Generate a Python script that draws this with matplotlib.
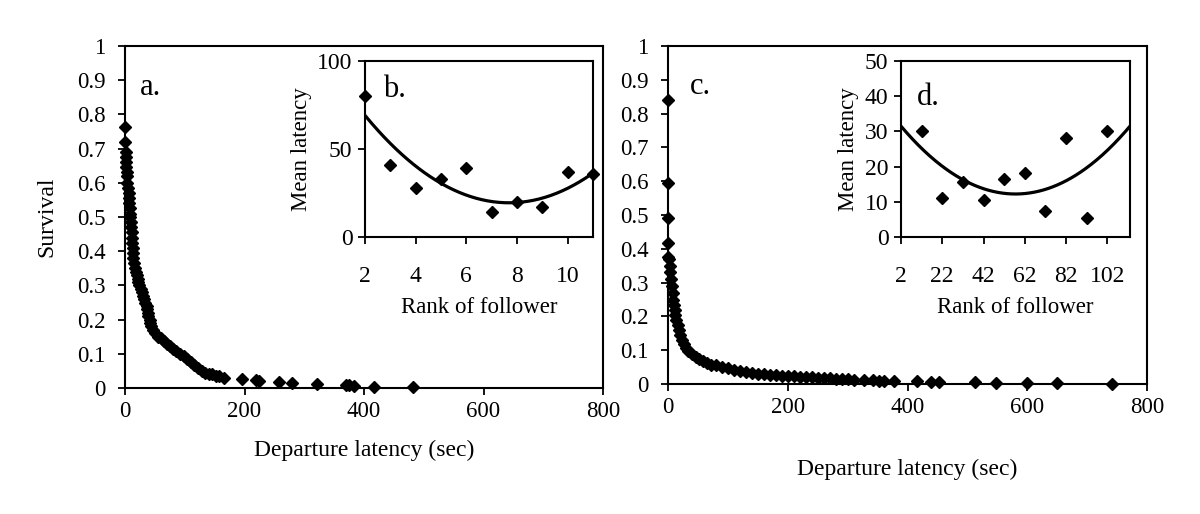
import numpy as np
import matplotlib
matplotlib.use("Agg")
import matplotlib.pyplot as plt

plt.rcParams['font.family'] = ['Liberation Serif', 'DejaVu Serif']

# panel a: survival vs departure latency (sec)
lat_a = [0, 0, 1, 1, 2, 2, 3, 4, 4, 5, 6, 6, 7, 8, 8, 9, 10, 10, 11, 12, 12, 13, 14, 14, 15, 16,
         18, 20, 21, 22, 24, 26, 28, 30, 32, 34, 36, 37, 38, 39, 41, 42, 44, 46, 50, 55, 60, 65,
         70, 75, 80, 86, 92, 98, 104, 110, 116, 122, 128, 133, 140, 146, 152, 158, 165,
         195, 220, 225, 258, 279, 321, 370, 375, 384, 417, 482]
surv_a = [0.764, 0.72, 0.69, 0.676, 0.66, 0.645, 0.633, 0.62, 0.6, 0.585, 0.57, 0.555, 0.54, 0.525,
          0.51, 0.5, 0.485, 0.47, 0.455, 0.44, 0.425, 0.41, 0.395, 0.38, 0.365, 0.35,
          0.34, 0.33, 0.32, 0.31, 0.3, 0.29, 0.28, 0.27, 0.26, 0.25, 0.24, 0.23, 0.22, 0.21, 0.2,
          0.19, 0.18, 0.17, 0.16, 0.15, 0.145, 0.138, 0.13, 0.123, 0.115, 0.108, 0.1, 0.093,
          0.085, 0.075, 0.066, 0.058, 0.051, 0.045, 0.042, 0.04, 0.036, 0.034, 0.03,
          0.025, 0.023, 0.02, 0.018, 0.016, 0.012, 0.01, 0.008, 0.006, 0.004, 0.002]

# panel c: survival vs departure latency (sec)
lat_c = [0, 0, 0, 0, 0, 2, 3, 4, 5, 7, 8, 9, 10, 11, 12, 14, 16, 18, 20, 23, 26, 30, 34, 40, 46,
         52, 58, 65, 72, 80, 90, 100, 110, 120, 130, 140, 150, 160, 170, 180, 190, 200, 210,
         220, 230, 240, 250, 260, 270, 280, 290, 300, 310, 327, 342, 352, 360, 377,
         416, 440, 453, 512, 548, 600, 650, 741]
surv_c = [0.84, 0.595, 0.49, 0.417, 0.376, 0.37, 0.35, 0.33, 0.31, 0.29, 0.27, 0.25, 0.235, 0.22,
          0.205, 0.19, 0.175, 0.16, 0.145, 0.13, 0.118, 0.107, 0.098, 0.088, 0.08,
          0.073, 0.067, 0.062, 0.057, 0.055, 0.05, 0.046, 0.042, 0.039, 0.036, 0.033, 0.031,
          0.029, 0.027, 0.026, 0.025, 0.024, 0.023, 0.022, 0.021, 0.02, 0.019, 0.018, 0.017,
          0.016, 0.015, 0.014, 0.013, 0.012, 0.011, 0.01, 0.009, 0.009,
          0.008, 0.007, 0.006, 0.005, 0.004, 0.003, 0.002, 0.001]

# panel b: mean latency by rank of follower
rank_b = [2, 3, 4, 5, 6, 7, 8, 9, 10, 11]
mean_b = [80, 41, 28, 33, 39, 14, 20, 17, 37, 36]
# trend line read at a few points
trend_bx = [2, 5, 7.5, 11]
trend_by = [69, 30.7, 19.3, 36.4]

# panel d
rank_d = [12, 22, 32, 42, 52, 62, 72, 82, 92, 102]
mean_d = [30, 11, 15.5, 10.5, 16.5, 18.2, 7.5, 28, 5.5, 30]
trend_dx = [2, 32, 57.5, 83, 113]
trend_dy = [31.5, 16.3, 12.2, 16.3, 31.5]

fig = plt.figure(figsize=(12, 5.14), dpi=100)


def main_panel(rect, x, y, letter, lx, xlabelpad, ylabel=None):
    ax = fig.add_axes(rect)
    ax.plot(x, y, linestyle='none', marker='D', ms=6.3, color='black', clip_on=False, zorder=3)
    ax.set_xlim(0, 800)
    ax.set_ylim(0, 1)
    ax.set_xticks([0, 200, 400, 600, 800])
    ax.set_yticks(np.arange(0, 1.01, 0.1))
    ax.set_yticklabels(['0', '0.1', '0.2', '0.3', '0.4', '0.5', '0.6', '0.7', '0.8', '0.9', '1'])
    ax.tick_params(direction='out', length=5, width=1.3, labelsize=16.5, top=False, right=False)
    ax.tick_params(axis='x', pad=4)
    ax.tick_params(axis='y', pad=9)
    for s in ax.spines.values():
        s.set_linewidth(1.5)
    ax.set_xlabel('Departure latency (sec)', fontsize=17, labelpad=xlabelpad)
    if ylabel:
        ax.set_ylabel(ylabel, fontsize=17, labelpad=14)
    ax.text(lx, 0.88, letter, transform=ax.transAxes, fontsize=22, va='center')
    return ax


def inset(rect, x, y, tx, ty, xlim, xticks, ylim, yticks, letter, lx, ly):
    ax = fig.add_axes(rect)
    ax.set_facecolor('white')
    ax.plot(x, y, linestyle='none', marker='D', ms=6.5, color='black', clip_on=False, zorder=3)
    coef = np.polyfit(tx, ty, 2)
    xs = np.linspace(xlim[0], xlim[1], 200)
    ax.plot(xs, np.polyval(coef, xs), color='black', lw=2.3)
    ax.set_xlim(*xlim)
    ax.set_ylim(*ylim)
    ax.set_xticks(xticks)
    ax.set_yticks(yticks)
    ax.tick_params(direction='out', length=5, width=1.3, labelsize=17)
    ax.tick_params(axis='x', pad=16)
    ax.tick_params(axis='y', pad=4)
    for s in ax.spines.values():
        s.set_linewidth(1.5)
    ax.set_xlabel('Rank of follower', fontsize=16.5, labelpad=7)
    ax.set_ylabel('Mean latency', fontsize=16.5, labelpad=4)
    ax.text(lx, ly, letter, transform=ax.transAxes, fontsize=22, va='center')
    return ax


main_panel([0.1042, 0.2451, 0.3983, 0.6654], lat_a, surv_a, 'a.', 0.03, 13, 'Survival')
main_panel([0.5567, 0.2529, 0.3991, 0.6576], lat_c, surv_c, 'c.', 0.045, 30)
inset([0.3042, 0.5389, 0.19, 0.3424], rank_b, mean_b, trend_bx, trend_by,
      (2, 11), [2, 4, 6, 8, 10], (0, 100), [0, 50, 100], 'b.', 0.08, 0.84)
inset([0.7508, 0.5389, 0.1909, 0.3424], rank_d, mean_d, trend_dx, trend_dy,
      (2, 113), [2, 22, 42, 62, 82, 102], (0, 50), [0, 10, 20, 30, 40, 50], 'd.', 0.07, 0.79)

fig.savefig('out.png', dpi=100)
